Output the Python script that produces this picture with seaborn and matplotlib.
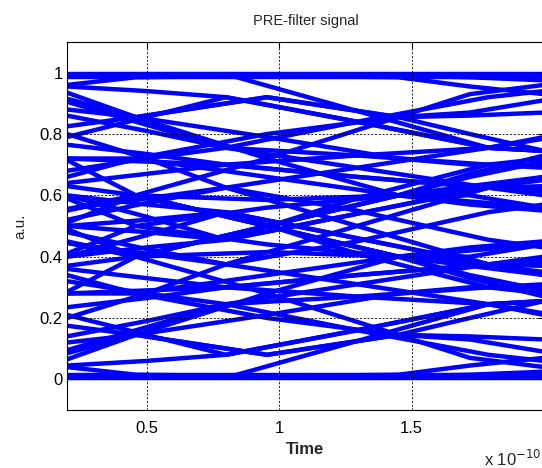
import matplotlib
matplotlib.use("Agg")
import matplotlib.pyplot as plt
import pandas as pd
import seaborn as sns

# time knots (units of 1e-10 s)
t_a = [0.2, 0.46, 0.955, 1.45, 1.72, 2.0]
t_b = [0.2, 0.50, 0.80, 1.295, 1.79, 2.0]

# traces (a.u.)
traces_a = [
    [0.995, 0.995, 0.995, 0.995, 0.995, 0.995],
    [0.96, 0.985, 0.99, 0.99, 0.985, 0.975],
    [0.99, 0.99, 0.99, 0.985, 0.955, 0.93],
    [0.935, 0.855, 0.92, 0.855, 0.87, 0.91],
    [0.825, 0.855, 0.92, 0.855, 0.80, 0.745],
    [0.915, 0.855, 0.72, 0.60, 0.57, 0.55],
    [0.63, 0.60, 0.72, 0.855, 0.93, 0.96],
    [0.715, 0.60, 0.585, 0.60, 0.66, 0.71],
    [0.555, 0.60, 0.50, 0.40, 0.33, 0.27],
    [0.51, 0.60, 0.50, 0.40, 0.40, 0.44],
    [0.45, 0.40, 0.50, 0.60, 0.63, 0.66],
    [0.88, 0.855, 0.79, 0.72, 0.70, 0.70],
    [0.72, 0.72, 0.80, 0.855, 0.86, 0.87],
    [0.66, 0.72, 0.66, 0.60, 0.62, 0.65],
    [0.59, 0.50, 0.56, 0.60, 0.58, 0.56],
    [0.005, 0.005, 0.005, 0.005, 0.005, 0.005],
    [0.04, 0.015, 0.01, 0.01, 0.015, 0.025],
    [0.01, 0.01, 0.01, 0.015, 0.045, 0.07],
    [0.065, 0.145, 0.08, 0.145, 0.13, 0.09],
    [0.175, 0.145, 0.08, 0.145, 0.20, 0.255],
    [0.085, 0.145, 0.28, 0.40, 0.43, 0.45],
    [0.37, 0.40, 0.28, 0.145, 0.07, 0.04],
    [0.285, 0.40, 0.415, 0.40, 0.34, 0.29],
    [0.445, 0.40, 0.50, 0.60, 0.67, 0.73],
    [0.49, 0.40, 0.50, 0.60, 0.60, 0.56],
    [0.55, 0.60, 0.50, 0.40, 0.37, 0.34],
    [0.12, 0.145, 0.21, 0.28, 0.30, 0.30],
    [0.28, 0.28, 0.20, 0.145, 0.14, 0.13],
    [0.34, 0.28, 0.34, 0.40, 0.38, 0.35],
    [0.41, 0.50, 0.44, 0.40, 0.42, 0.44],
]
traces_b = [
    [0.985, 0.985, 0.985, 0.985, 0.985, 0.985],
    [0.905, 0.83, 0.755, 0.84, 0.92, 0.94],
    [0.99, 0.995, 0.995, 0.875, 0.755, 0.745],
    [0.765, 0.735, 0.70, 0.66, 0.625, 0.61],
    [0.79, 0.855, 0.92, 0.84, 0.755, 0.785],
    [0.72, 0.71, 0.70, 0.73, 0.755, 0.79],
    [0.64, 0.67, 0.70, 0.66, 0.625, 0.60],
    [0.555, 0.59, 0.625, 0.69, 0.755, 0.745],
    [0.52, 0.575, 0.625, 0.50, 0.375, 0.34],
    [0.60, 0.53, 0.455, 0.54, 0.625, 0.66],
    [0.80, 0.72, 0.625, 0.55, 0.455, 0.43],
    [0.40, 0.43, 0.455, 0.59, 0.70, 0.72],
    [0.86, 0.81, 0.755, 0.73, 0.70, 0.69],
    [0.955, 0.94, 0.92, 0.84, 0.755, 0.745],
    [0.68, 0.72, 0.755, 0.69, 0.625, 0.62],
    [0.50, 0.48, 0.455, 0.54, 0.625, 0.63],
    [0.015, 0.015, 0.015, 0.015, 0.015, 0.015],
    [0.095, 0.17, 0.245, 0.16, 0.08, 0.06],
    [0.01, 0.005, 0.005, 0.125, 0.245, 0.255],
    [0.235, 0.265, 0.30, 0.34, 0.375, 0.39],
    [0.21, 0.145, 0.08, 0.16, 0.245, 0.215],
    [0.28, 0.29, 0.30, 0.27, 0.245, 0.21],
    [0.36, 0.33, 0.30, 0.34, 0.375, 0.40],
    [0.445, 0.41, 0.375, 0.31, 0.245, 0.255],
    [0.48, 0.425, 0.375, 0.50, 0.625, 0.66],
    [0.40, 0.47, 0.545, 0.46, 0.375, 0.34],
    [0.20, 0.28, 0.375, 0.45, 0.545, 0.57],
    [0.60, 0.57, 0.545, 0.41, 0.30, 0.28],
    [0.14, 0.19, 0.245, 0.27, 0.30, 0.31],
    [0.045, 0.06, 0.08, 0.16, 0.245, 0.255],
    [0.32, 0.28, 0.245, 0.31, 0.375, 0.38],
    [0.50, 0.52, 0.545, 0.46, 0.375, 0.37],
]

x_ticks = [0.5, 1.0, 1.5]
x_tick_labels = ["0.5", "1", "1.5"]
y_ticks = [0, 0.2, 0.4, 0.6, 0.8, 1.0]
y_tick_labels = ["0", "0.2", "0.4", "0.6", "0.8", "1"]

rows = []
for i, ys in enumerate(traces_a):
    for t, y in zip(t_a, ys):
        rows.append((f"a{i}", t, y))
for i, ys in enumerate(traces_b):
    for t, y in zip(t_b, ys):
        rows.append((f"b{i}", t, y))
df = pd.DataFrame(rows, columns=["trace", "t", "y"])

sns.set_style("white")
plt.rcParams["font.family"] = ["Liberation Sans", "DejaVu Sans"]

fig = plt.figure(figsize=(5.42, 4.68), dpi=100)
ax = fig.add_axes([67 / 542, 1 - 410 / 468, 477 / 542, 368 / 468])
sns.lineplot(data=df, x="t", y="y", units="trace", estimator=None, sort=False,
             color="#0000ff", lw=3.2, ax=ax, legend=False)

ax.set_xlim(0.2, 2.0)
ax.set_ylim(-0.1, 1.1)
ax.set_xticks(x_ticks)
ax.set_xticklabels(x_tick_labels)
ax.set_yticks(y_ticks)
ax.set_yticklabels(y_tick_labels)
ax.grid(True, color="black", linestyle=(0, (2.5, 2)), lw=0.6)
ax.set_axisbelow(False)
for s in ax.spines.values():
    s.set_color("black")
    s.set_linewidth(0.8)
ax.tick_params(direction="in", length=4, top=True, right=True, labelsize=12,
               colors="black")
ax.tick_params(axis="x", pad=8)
ax.tick_params(axis="y", pad=3)
ax.set_title("PRE-filter signal", fontsize=10.5, pad=12)
ax.set_xlabel("Time", fontsize=12, fontweight="bold", labelpad=4)
ax.set_ylabel("a.u.", fontsize=11, labelpad=9)
fig.text(541 / 542, 1 - 466 / 468, r"x 10$^{-10}$", ha="right", va="baseline", fontsize=12)

fig.savefig("out.png", dpi=100)
